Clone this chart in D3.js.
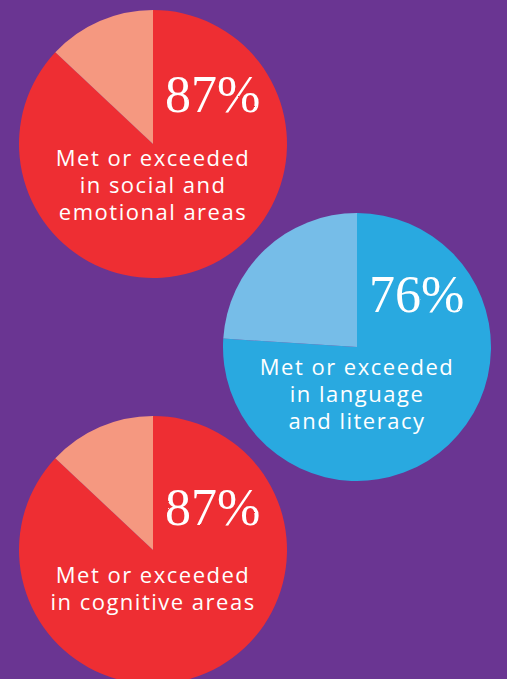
<!DOCTYPE html>
<html>
<head>
<meta charset="utf-8">
<script src="https://cdn.jsdelivr.net/npm/d3@7"></script>
<style>
  html, body { margin: 0; padding: 0; background: #6a3592; }
  svg { display: block; }
</style>
</head>
<body>
<div id="chart"></div>
<script>
// values
const shares = [87, 76, 87]
const labels = [
    ["Met or exceeded", "in social and", "emotional areas"],
    ["Met or exceeded", "in language", "and literacy"],
    ["Met or exceeded", "in cognitive areas"]
]
const mainColors = ["#ee2e33", "#29a9e0", "#ee2e33"]
const restColors = ["#f59880", "#76bde8", "#f59880"]

// where each pie sits on the page
const layout = [
    { cx: 153, cy: 144, pctY: -32, labelY: 22 },
    { cx: 357, cy: 347, pctY: -35, labelY: 28 },
    { cx: 153, cy: 550, pctY: -25, labelY: 33 }
]

const width = 507
const height = 679
const radius = 134

const svg = d3.select("#chart")
    .append("svg")
    .attr("width", width)
    .attr("height", height)

svg.append("rect")
    .attr("width", width)
    .attr("height", height)
    .attr("fill", "#6a3592")

// rough chalk look for the big numbers
const filter = svg.append("defs").append("filter")
    .attr("id", "chalk")
filter.append("feTurbulence")
    .attr("type", "fractalNoise")
    .attr("baseFrequency", 0.9)
    .attr("numOctaves", 2)
    .attr("result", "noise")
filter.append("feDisplacementMap")
    .attr("in", "SourceGraphic")
    .attr("in2", "noise")
    .attr("scale", 1.6)

const pie = d3.pie().sort(null).value(d => d)
const arc = d3.arc().innerRadius(0).outerRadius(radius)

shares.forEach((share, i) => {
    const pos = layout[i]
    const g = svg.append("g")
        .attr("transform", "translate(" + pos.cx + "," + pos.cy + ")")

    g.selectAll("path")
        .data(pie([share, 100 - share]))
        .enter().append("path")
        .attr("d", arc)
        .attr("fill", (d, j) => j === 0 ? mainColors[i] : restColors[i])

    g.append("text")
        .attr("x", 12)
        .attr("y", pos.pctY)
        .attr("fill", "white")
        .attr("font-family", "Liberation Serif")
        .attr("font-size", 52)
        .attr("filter", "url(#chalk)")
        .text(share + "%")

    g.append("text")
        .attr("text-anchor", "middle")
        .attr("fill", "white")
        .attr("font-family", "Open Sans")
        .attr("font-size", 22)
        .attr("letter-spacing", 1.5)
        .selectAll("tspan")
        .data(labels[i])
        .enter().append("tspan")
        .attr("x", 0)
        .attr("y", (d, j) => pos.labelY + j * 27)
        .text(d => d)
})
</script>
</body>
</html>
